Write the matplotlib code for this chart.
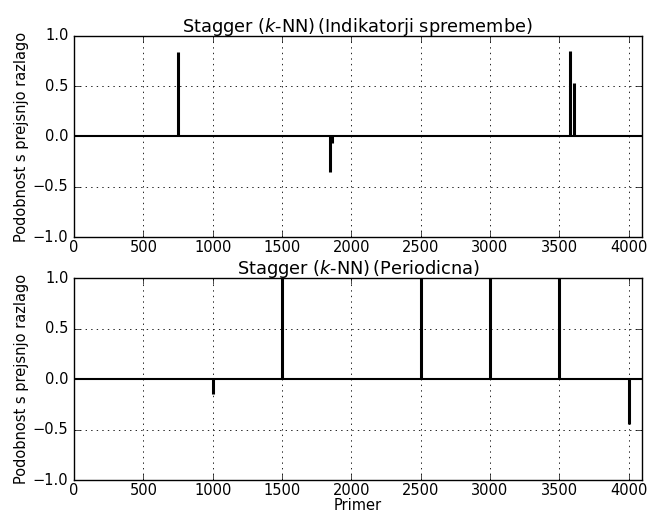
import matplotlib
matplotlib.use("Agg")
import matplotlib.pyplot as plt

# Change indicator series: sample index and similarity to previous explanation
ind_x = [750, 1845, 1864, 3579, 3603]
ind_y = [0.84, -0.35, -0.07, 0.85, 0.53]

# Periodic series
per_x = [1000, 1500, 2500, 3000, 3500, 4000]
per_y = [-0.15, 1.0, 1.0, 1.0, 1.0, -0.44]

titles = [r"Stagger ($k$-NN)$\,$(Indikatorji spremembe)", r"Stagger ($k$-NN)$\,$(Periodicna)"]
ylabel = "Podobnost s prejsnjo razlago"
xlabel = "Primer"
xticks = [0, 500, 1000, 1500, 2000, 2500, 3000, 3500, 4000]
yticks = [-1.0, -0.5, 0.0, 0.5, 1.0]

plt.style.use("classic")
plt.rcParams["font.family"] = ["DejaVu Sans"]
plt.rcParams["mathtext.fontset"] = "dejavusans"

fig = plt.figure(figsize=(6.51, 5.13), dpi=100, facecolor="white")
ax1 = fig.add_axes([0.1137, 0.538, 0.872, 0.392])
ax2 = fig.add_axes([0.1137, 0.064, 0.872, 0.394])

for ax, xs, ys, title in [(ax1, ind_x, ind_y, titles[0]), (ax2, per_x, per_y, titles[1])]:
    ax.axhline(0.0, color="black", linewidth=1.5)
    ax.vlines(xs, 0.0, ys, color="black", linewidth=2.2)
    ax.set_xlim(0, 4094)
    ax.set_ylim(-1.0, 1.0)
    ax.set_xticks(xticks)
    ax.set_yticks(yticks)
    ax.set_yticklabels([f"{v:.1f}".replace("-", "\u2212") for v in yticks])
    ax.tick_params(labelsize=10.5, direction="in")
    ax.tick_params(axis="x", pad=2)
    ax.grid(True, linestyle=":", color="black", linewidth=0.6)
    ax.set_title(title, fontsize=12.8, pad=3)
    ax.set_ylabel(ylabel, fontsize=10.5, labelpad=3)
    ax.set_facecolor("white")

ax2.set_xlabel(xlabel, fontsize=10.5, labelpad=0)

fig.savefig("out.png", dpi=100, facecolor="white")
